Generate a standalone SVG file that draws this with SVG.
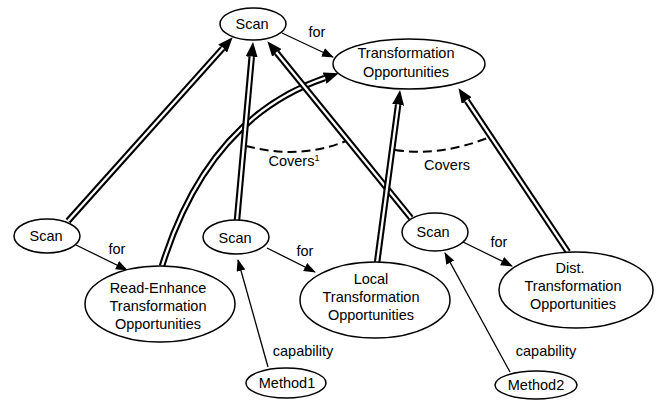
<svg xmlns="http://www.w3.org/2000/svg" width="657" height="402" viewBox="0 0 657 402">
<style>
.node ellipse{fill:#fff;stroke:#000;stroke-width:1.5}
text{font-family:"Liberation Sans",Arial,sans-serif;font-size:14.5px;fill:#000;text-anchor:middle}
.dbl-o{fill:none;stroke:#000;stroke-width:6.5}
.dbl-i{fill:none;stroke:#fff;stroke-width:2.3}
.sgl{fill:none;stroke:#000;stroke-width:1.3}
.dash{fill:none;stroke:#000;stroke-width:2;stroke-dasharray:9 5}
</style>
<defs>
<marker id="bigHead" markerUnits="userSpaceOnUse" markerWidth="16" markerHeight="12" refX="0" refY="6" orient="auto">
<path d="M0,0 L15,6 L0,12 z" fill="#000"/>
</marker>
<marker id="smallHead" markerUnits="userSpaceOnUse" markerWidth="12" markerHeight="10" refX="11" refY="4.5" orient="auto">
<path d="M0,0 L12,4.5 L0,9 z" fill="#000"/>
</marker>
</defs>
<g id="connectors">
<path class="dash" d="M246,146 Q300,160 346,141"/>
<path class="dash" d="M395,150 Q440,157 490,137"/>
<path class="dbl-o" d="M68,221 L222.7,48.4" marker-end="url(#bigHead)"/>
<path class="dbl-i" d="M68,221 L223.2,47.8"/>
<path class="dbl-o" d="M162,266 Q208,118 324.6,78.1" marker-end="url(#bigHead)"/>
<path class="dbl-i" d="M162,266 Q208,118 325.2,77.9"/>
<path class="dbl-o" d="M237,220 L251.7,56.9" marker-end="url(#bigHead)"/>
<path class="dbl-i" d="M237,220 L251.8,56.3"/>
<path class="dbl-o" d="M411,218 L276.8,52.9" marker-end="url(#bigHead)"/>
<path class="dbl-i" d="M411,218 L276.3,52.3"/>
<path class="dbl-o" d="M377,263 L398.1,104.9" marker-end="url(#bigHead)"/>
<path class="dbl-i" d="M377,263 L398.2,104.3"/>
<path class="dbl-o" d="M568,252 L466.8,100.6" marker-end="url(#bigHead)"/>
<path class="dbl-i" d="M568,252 L466.4,100"/>
<path class="sgl" d="M282,33 L333,57" marker-end="url(#smallHead)"/>
<path class="sgl" d="M76,245 L127,270" marker-end="url(#smallHead)"/>
<path class="sgl" d="M267,248 L315,272" marker-end="url(#smallHead)"/>
<path class="sgl" d="M463,242 L512,266" marker-end="url(#smallHead)"/>
<path class="sgl" d="M268,367 L238,260" marker-end="url(#smallHead)"/>
<path class="sgl" d="M510,372 L445,253" marker-end="url(#smallHead)"/>
<text x="317" y="37">for</text>
<text x="117" y="254">for</text>
<text x="305" y="256">for</text>
<text x="499" y="247">for</text>
<text x="303" y="356">capability</text>
<text x="546" y="356">capability</text>
<text x="294" y="166">Covers<tspan font-size="9" dy="-5">1</tspan></text>
<text x="447" y="170">Covers</text>
</g>
<g id="scan-top" class="node"><ellipse cx="253" cy="24" rx="33" ry="16"/><text x="252" y="29">Scan</text></g>
<g id="transformation-opportunities" class="node"><ellipse cx="409" cy="64" rx="76" ry="25"/><text x="406" y="58">Transformation</text><text x="406" y="77">Opportunities</text></g>
<g id="scan-left" class="node"><ellipse cx="47" cy="236" rx="33" ry="17"/><text x="46" y="241">Scan</text></g>
<g id="read-enhance" class="node"><ellipse cx="160" cy="304" rx="75" ry="38"/><text x="158" y="293">Read-Enhance</text><text x="158" y="311">Transformation</text><text x="158" y="329">Opportunities</text></g>
<g id="scan-middle" class="node"><ellipse cx="236" cy="237" rx="33" ry="17"/><text x="235" y="243">Scan</text></g>
<g id="local" class="node"><ellipse cx="375" cy="300" rx="75" ry="38"/><text x="371" y="284">Local</text><text x="371" y="302">Transformation</text><text x="371" y="320">Opportunities</text></g>
<g id="scan-right" class="node"><ellipse cx="435" cy="232" rx="33" ry="19"/><text x="433" y="237">Scan</text></g>
<g id="dist" class="node"><ellipse cx="576" cy="290" rx="77" ry="38"/><text x="570" y="273">Dist.</text><text x="573" y="291">Transformation</text><text x="573" y="309">Opportunities</text></g>
<g id="method1" class="node"><ellipse cx="286" cy="383" rx="40" ry="15"/><text x="287" y="388">Method1</text></g>
<g id="method2" class="node"><ellipse cx="536" cy="385" rx="41" ry="14"/><text x="536" y="390">Method2</text></g>
</svg>
